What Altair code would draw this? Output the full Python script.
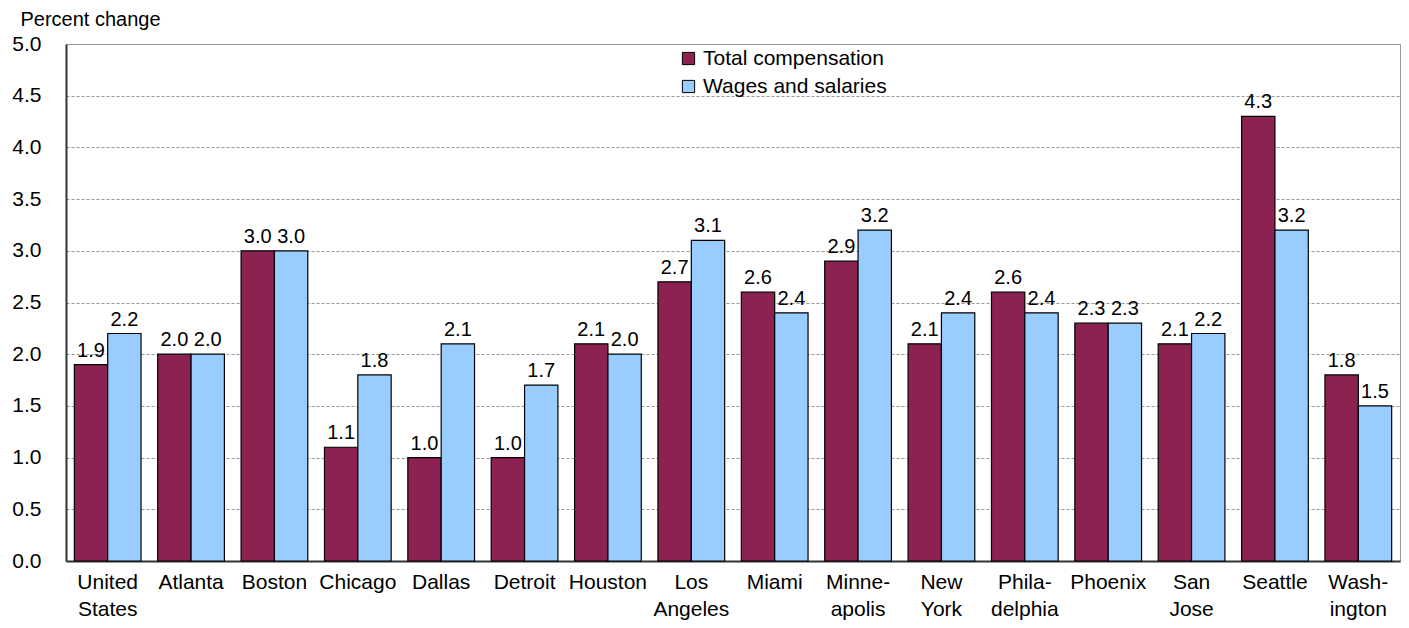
import altair as alt
import pandas as pd

cities = ["United|States", "Atlanta", "Boston", "Chicago", "Dallas", "Detroit", "Houston",
          "Los|Angeles", "Miami", "Minne-|apolis", "New|York", "Phila-|delphia", "Phoenix",
          "San|Jose", "Seattle", "Wash-|ington"]
total_comp = [1.9, 2.0, 3.0, 1.1, 1.0, 1.0, 2.1, 2.7, 2.6, 2.9, 2.1, 2.6, 2.3, 2.1, 4.3, 1.8]
wages = [2.2, 2.0, 3.0, 1.8, 2.1, 1.7, 2.0, 3.1, 2.4, 3.2, 2.4, 2.4, 2.3, 2.2, 3.2, 1.5]
series = ["Total compensation", "Wages and salaries"]
y_ticks = [0, 0.5, 1, 1.5, 2, 2.5, 3, 3.5, 4, 4.5, 5]

rows = []
for c, t, w in zip(cities, total_comp, wages):
    rows.append({"city": c, "series": series[0], "value": t})
    rows.append({"city": c, "series": series[1], "value": w})
df = pd.DataFrame(rows)

FONT = "Liberation Sans"

base = alt.Chart(df).encode(
    x=alt.X("city:N", sort=cities,
            scale=alt.Scale(paddingInner=0.2, paddingOuter=0.1),
            axis=alt.Axis(title=None, labelExpr="split(datum.label, '|')",
                          labelAngle=0, labelFontSize=21, labelFont=FONT, labelColor="#000",
                          labelLineHeight=27, labelPadding=10, ticks=False,
                          domainColor="#333", domainWidth=2, labelOverlap=False)),
    xOffset=alt.XOffset("series:N", sort=series),
)

bars = base.mark_bar(stroke="#000", strokeWidth=1.2).encode(
    y=alt.Y("value:Q", scale=alt.Scale(domain=[0, 5], nice=False),
            axis=alt.Axis(values=y_ticks, format=".1f", title="Percent change",
                          titleAngle=0, titleAlign="left", titleBaseline="alphabetic",
                          titleX=-46, titleY=-19, titleFontSize=20, titleFontWeight="normal",
                          titleFont=FONT, titleColor="#000",
                          labelFontSize=21, labelFont=FONT, labelColor="#000", labelPadding=25,
                          ticks=False, domainColor="#333", domainWidth=2,
                          gridColor="#999", gridDash=[3, 2], gridWidth=1)),
    color=alt.Color("series:N", sort=series,
                    scale=alt.Scale(domain=series, range=["#8B2252", "#99CCFF"]),
                    legend=alt.Legend(title=None, orient="none", legendX=612, legendY=4,
                                      symbolType="square", symbolSize=150,
                                      symbolStrokeColor="#000", symbolStrokeWidth=1,
                                      labelFontSize=21, labelFont=FONT, labelColor="#000",
                                      labelLimit=0, rowPadding=6, labelOffset=4)),
)

labels = base.mark_text(baseline="alphabetic", dy=-8, fontSize=20, font=FONT, color="#000").encode(
    y="value:Q",
    text=alt.Text("value:Q", format=".1f"),
)

chart = alt.layer(bars, labels).properties(
    width=1334, height=517,
    autosize=alt.AutoSizeParams(type="none"),
    padding={"left": 58, "top": 36, "right": 1, "bottom": 64},
).configure_view(stroke="#999", strokeWidth=1).configure_axis(gridOpacity=1)

chart.save("out.html", embed_options={"renderer": "svg", "actions": False})
